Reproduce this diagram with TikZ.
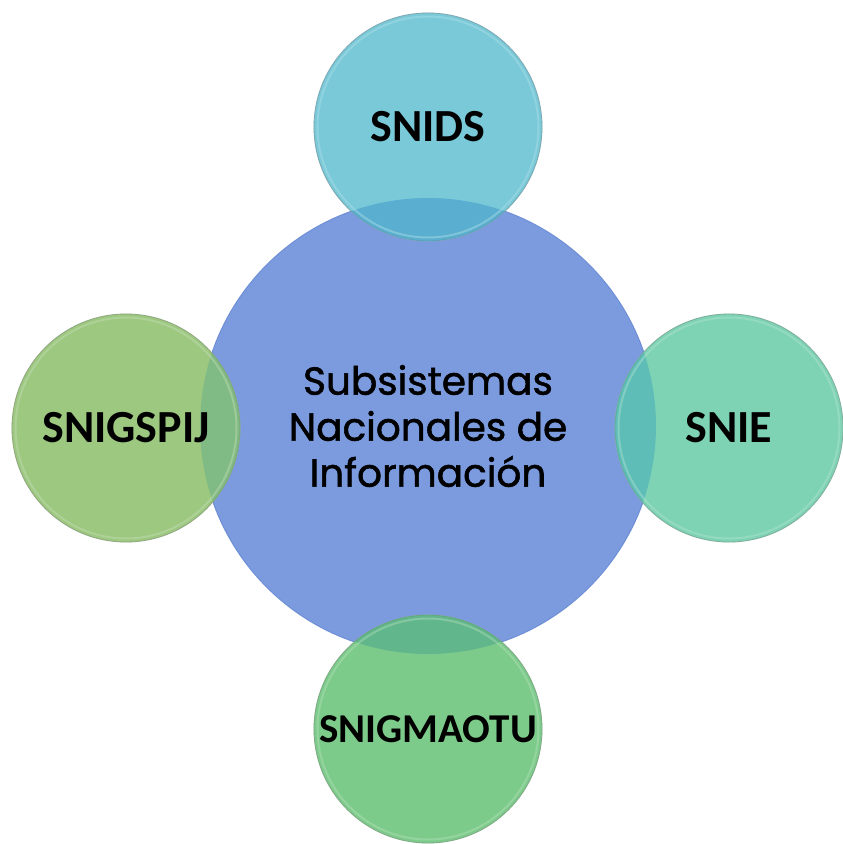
\documentclass[tikz,border=0pt]{standalone}
\usepackage{fontspec}
\setmainfont{Carlito}
\newfontfamily\centerfont[FakeBold=1.4]{Poppins}
\definecolor{cblue}{HTML}{7B9BDE}
\definecolor{cblueedge}{HTML}{6F8FD6}
\definecolor{ccyan}{HTML}{79C9D9}
\definecolor{ccyanov}{HTML}{5AAECF}
\definecolor{cleaf}{HTML}{9DC880}
\definecolor{cleafov}{HTML}{80BA84}
\definecolor{cteal}{HTML}{7DD3B4}
\definecolor{ctealov}{HTML}{5FBDB7}
\definecolor{cgreen}{HTML}{7DCB8A}
\definecolor{cgreenov}{HTML}{62B68C}
\tikzset{
  bigcirc/.style={circle, fill=cblue, draw=cblueedge, line width=1pt, minimum size=456pt, inner sep=0pt},
  smallcirc/.style={circle, minimum size=228pt, inner sep=0pt, draw=#1!75!black!60, line width=0.8pt},
  lbl/.style={font=\bfseries\fontsize{46}{50}\selectfont, text=black},
  centertext/.style={font=\centerfont\fontsize{39}{46}\selectfont, align=center, text=black}
}
\begin{document}
\begin{tikzpicture}[x=1pt,y=-1pt]
\useasboundingbox (0,0) rectangle (843,844);
\fill[white] (0,0) rectangle (843,844);
% central circle
\node[bigcirc] (center) at (428,426) {};
% small circles
\node[smallcirc=ccyan, fill=ccyan] (top) at (428,127) {};
\node[smallcirc=cleaf, fill=cleaf] (left) at (126,428) {};
\node[smallcirc=cteal, fill=cteal] (right) at (729,428) {};
\node[smallcirc=cgreen, fill=cgreen] (bottom) at (428,729) {};
% overlaps
\begin{scope}
  \clip (428,426) circle (228pt);
  \fill[ccyanov] (top.center) circle (114pt);
  \fill[cleafov] (left.center) circle (114pt);
  \fill[ctealov] (right.center) circle (114pt);
  \fill[cgreenov] (bottom.center) circle (114pt);
\end{scope}
% rims
\foreach \n/\c in {top/ccyan, left/cleaf, right/cteal, bottom/cgreen}{
  \draw[\c!60!white, line width=2pt, opacity=0.45] (\n.center) circle (110.5pt);
  \draw[\c!70!black, line width=0.8pt, opacity=0.45] (\n.center) circle (114pt);
}
% labels
\node[centertext] (ctext) at (center.center) {Subsistemas\\Nacionales de\\Información};
\node[lbl] (ttext) at (top.center) {SNIDS};
\node[lbl] (ltext) at (left.center) {SNIGSPIJ};
\node[lbl] (rtext) at (right.center) {SNIE};
\node[lbl, font=\bfseries\fontsize{41}{45}\selectfont] (btext) at (bottom.center) {SNIGMAOTU};
\end{tikzpicture}
\end{document}
